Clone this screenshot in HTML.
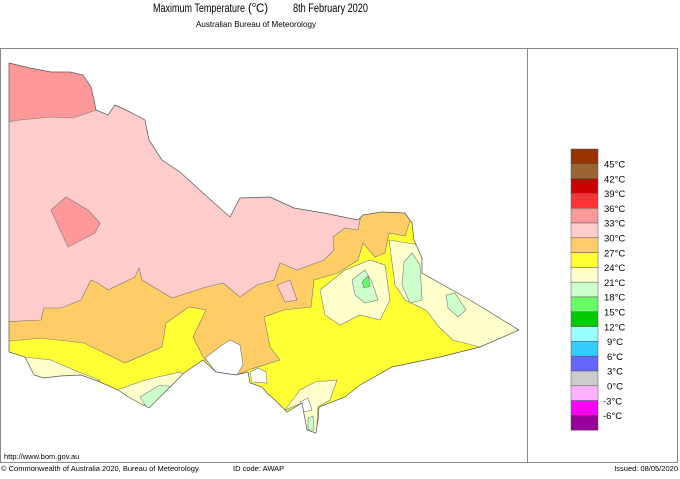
<!DOCTYPE html>
<html><head><meta charset="utf-8"><style>
body{margin:0;background:#fff;width:680px;height:474px;overflow:hidden;font-family:"Liberation Sans",sans-serif}
</style></head><body>
<svg width="680" height="474" viewBox="0 0 680 474" xmlns="http://www.w3.org/2000/svg" font-family="Liberation Sans, sans-serif">
<rect width="680" height="474" fill="#fff"/>
<text x="153" y="12" font-size="11.5" textLength="92" lengthAdjust="spacingAndGlyphs">Maximum Temperature</text>
<text x="248" y="12" font-size="11.5">(</text><text x="252" y="7" font-size="7">o</text><text x="256" y="12" font-size="11.5">C)</text>
<text x="293" y="12" font-size="11.5" textLength="75" lengthAdjust="spacingAndGlyphs">8th February 2020</text>
<text x="196" y="27" font-size="8.5" textLength="120" lengthAdjust="spacingAndGlyphs">Australian Bureau of Meteorology</text>
<rect x="0.5" y="48.5" width="677" height="414" fill="none" stroke="#888"/>
<line x1="527.5" y1="48" x2="527.5" y2="463" stroke="#888"/>
<defs>
<clipPath id="vic"><polygon id="vp" points="9,63 30,68 51,72 70,72 83,75 91,87 94,100 96,110 108,115 115,105 130,112 145,120 149,140 162,160 180,172 203,193 230,217 240,198 270,197 294,208 324,213 358,220 363,215 382,212 405,213 412,223 414,240 422,258 422,273 470,300 519,330 480,347 440,357 392,367 360,385 345,397 319,407 318,420 316,433 307,430 302,403 287,412 275,400 267,393 262,387 250,383 248,372 236,375 216,372 203,360 184,373 165,392 149,408 130,398 118,390 100,382 81,375 60,376 44,378 34,375 25,357 9,352"/></clipPath>
</defs>
<g clip-path="url(#vic)" stroke="#777" stroke-width="0.6">
<rect x="0" y="50" width="527" height="400" fill="#ffcccc" stroke="none"/>
<polygon fill="#ff9999" points="0,50 100,50 96,110 73,118 51,117 20,120 0,123"/>
<polygon fill="#ff9999" points="51,210 66,197 88,210 100,223 95,233 68,247"/>
<polygon fill="#ffcc66" points="0,322 41,320 44,308 61,308 81,300 91,280 98,283 108,290 135,277 139,268 142,280 172,298 203,288 223,283 240,297 257,285 274,280 280,263 297,270 324,260 334,250 333,237 345,228 358,230 362,210 420,200 450,300 450,450 0,450"/>
<polygon fill="#ffcccc" points="277,285 290,280 297,300 285,302"/>
<polygon fill="#ffff33" points="0,342 41,338 84,343 125,363 162,347 166,323 189,307 206,310 193,337 203,357 225,380 248,370 280,360 270,347 264,317 284,310 311,307 314,280 338,273 358,260 363,243 375,257 385,253 389,233 405,236 412,215 540,215 540,450 0,450"/>
<polygon fill="#ffffcc" points="389,240 420,245 425,270 519,330 540,340 480,347 453,340 439,327 426,310 405,300 395,285"/>
<polygon fill="#ffffcc" points="320,290 345,270 370,260 385,265 390,300 380,320 360,315 340,325 325,315"/>
<polygon fill="#ccffcc" points="352,280 365,270 372,282 378,300 365,303 355,295"/>
<polygon fill="#66ff66" points="362,282 368,276 370,286 364,288"/>
<polygon fill="#ccffcc" points="404,262 412,253 420,265 422,300 410,303 402,285"/>
<polygon fill="#ccffcc" points="446,295 455,293 466,310 458,317 448,308"/>
<polygon fill="#ffffcc" points="0,355 24,357 51,360 81,373 100,380 0,400"/>
<polygon fill="#ffffcc" points="117,390 145,380 180,372 190,378 165,395 150,410 135,402"/>
<polygon fill="#ccffcc" points="140,397 160,385 174,387 165,400 148,410"/>
<polygon fill="#ffffcc" points="285,410 300,390 315,382 337,380 330,400 318,407 316,440 300,440 302,403"/>
<polygon fill="#ccffcc" points="308,418 313,416 314,430 308,430"/>
<polygon fill="#fff" points="205,358 222,345 230,340 240,345 243,365 237,375 216,372"/>
<polygon fill="#fff" points="250,372 258,368 266,372 267,383 252,382"/>
<polygon fill="#fff" points="300,402 308,398 312,410 304,412"/>
</g>
<use href="#vp" fill="none" stroke="#555" stroke-width="0.7"/>
<g stroke="#555" stroke-width="0.5">
<rect x="571" y="149" width="27" height="14.8" fill="#993300"/>
<rect x="571" y="163.8" width="27" height="14.8" fill="#996633"/>
<rect x="571" y="178.6" width="27" height="14.8" fill="#cc0000"/>
<rect x="571" y="193.4" width="27" height="14.8" fill="#ff3333"/>
<rect x="571" y="208.2" width="27" height="14.8" fill="#ff9999"/>
<rect x="571" y="223" width="27" height="14.8" fill="#ffcccc"/>
<rect x="571" y="237.8" width="27" height="14.8" fill="#ffcc66"/>
<rect x="571" y="252.6" width="27" height="14.8" fill="#ffff33"/>
<rect x="571" y="267.4" width="27" height="14.8" fill="#ffffcc"/>
<rect x="571" y="282.2" width="27" height="14.8" fill="#ccffcc"/>
<rect x="571" y="297" width="27" height="14.8" fill="#66ff66"/>
<rect x="571" y="311.8" width="27" height="14.8" fill="#00cc00"/>
<rect x="571" y="326.6" width="27" height="14.8" fill="#99ffff"/>
<rect x="571" y="341.4" width="27" height="14.8" fill="#33ccff"/>
<rect x="571" y="356.2" width="27" height="14.8" fill="#6666ff"/>
<rect x="571" y="371" width="27" height="14.8" fill="#cccccc"/>
<rect x="571" y="385.8" width="27" height="14.8" fill="#ffb3ff"/>
<rect x="571" y="400.6" width="27" height="14.8" fill="#ff00ff"/>
<rect x="571" y="415.4" width="27" height="14.8" fill="#990099"/>
</g>
<g font-size="9.5" fill="#000">
<text x="604" y="167.5">45°C</text><text x="604" y="182.3">42°C</text><text x="604" y="197.1">39°C</text><text x="604" y="211.9">36°C</text><text x="604" y="226.7">33°C</text><text x="604" y="241.5">30°C</text><text x="604" y="256.3">27°C</text><text x="604" y="271.1">24°C</text><text x="604" y="285.9">21°C</text><text x="604" y="300.7">18°C</text><text x="604" y="315.5">15°C</text><text x="604" y="330.3">12°C</text><text x="607" y="345.1">9°C</text><text x="607" y="359.9">6°C</text><text x="607" y="374.7">3°C</text><text x="607" y="389.5">0°C</text><text x="603" y="404.3">-3°C</text><text x="603" y="419.1">-6°C</text>
</g>
<text x="4" y="459" font-size="7.5">http://www.bom.gov.au</text>
<text x="1" y="471" font-size="7.5">© Commonwealth of Australia 2020, Bureau of Meteorology</text>
<text x="233" y="471" font-size="7.5">ID code: AWAP</text>
<text x="678" y="471" font-size="7.5" text-anchor="end">Issued: 08/05/2020</text>
</svg>
</body></html>
